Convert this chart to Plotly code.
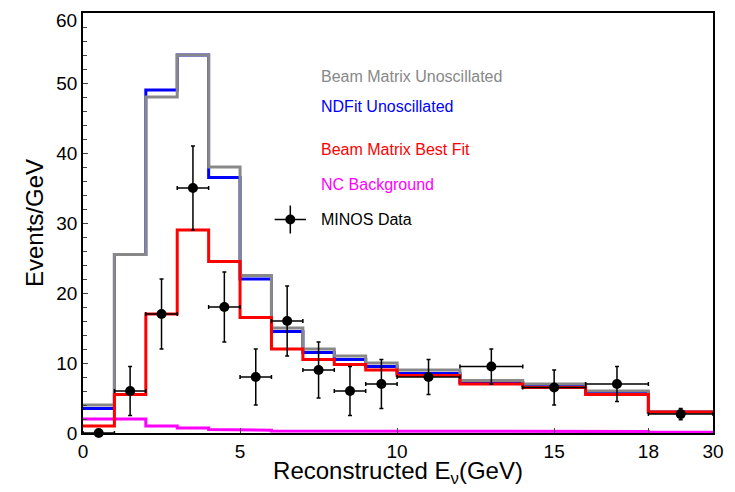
import plotly.graph_objects as go

edges = [0,1,2,3,4,5,6,7,8,9,10,12,14,16,18,30]
gray = [4,25.5,48,54,38,22.5,15,12,11,10,9,7.5,7,6,3]
blue = [3.5,25.5,49,54,36.5,22,14.5,11.5,10.5,9.5,8.5,7.2,6.8,5.8,3]
red = [1,5.5,17,29,24.5,16.5,12,10.5,9.8,9,8.2,7,6.5,5.5,3]
nc = [2,2,1,0.7,0.5,0.4,0.3,0.3,0.2,0.2,0.2,0.2,0.2,0.2,0.1]
dx = [0.5,1.5,2.5,3.5,4.5,5.5,6.5,7.5,8.5,9.5,11,13,15,17,24]
dxe = [0.5,0.5,0.5,0.5,0.5,0.5,0.5,0.5,0.5,0.5,1,1,1,1,6]
dy = [0,6,17,35,18,8,16,9,6,7,8,9.5,6.5,7,2.7]
dye = [0,3.5,5,6,5,4,5,4,3.5,3.5,2.5,2.5,2.5,2.5,0.8]
ticks = [0,5,10,15,18,30]
yticks = [0,10,20,30,40,50]
ytop = 60

def t(x):
    return x if x <= 18 else 18 + (x-18)*0.1714

def step(vals):
    xs, ys = [], []
    for i, v in enumerate(vals):
        xs += [t(edges[i]), t(edges[i+1])]
        ys += [v, v]
    return xs, ys

fig = go.Figure()
for vals, c in [(nc,'#ff00ff'),(blue,'#0000ff'),(gray,'#888888'),(red,'#ff0000')]:
    xs, ys = step(vals)
    fig.add_trace(go.Scatter(x=xs, y=ys, mode='lines', line=dict(color=c, width=3), showlegend=False, cliponaxis=False))

txs = [t(x) for x in dx]
exl = [t(x)-t(x-e) for x, e in zip(dx, dxe)]
exr = [t(x+e)-t(x) for x, e in zip(dx, dxe)]
fig.add_trace(go.Scatter(x=txs, y=dy, mode='markers', marker=dict(color='black', size=10),
    error_x=dict(type='data', symmetric=False, array=exr, arrayminus=exl, color='black', thickness=1.5, width=2),
    error_y=dict(type='data', array=dye, color='black', thickness=1.5, width=2), showlegend=False, cliponaxis=False))

labels = [('Beam Matrix Unoscillated','#888888',51),('NDFit Unoscillated','#0000ff',46.7),
          ('Beam Matrix Best Fit','#ff0000',40.5),('NC Background','#ff00ff',35.5)]
for txt, c, y in labels:
    fig.add_annotation(x=7.5, y=y, text=txt, showarrow=False, xanchor='left', font=dict(color=c, size=16))
fig.add_annotation(x=7.5, y=30.5, text='MINOS Data', showarrow=False, xanchor='left', font=dict(color='black', size=16))
fig.add_trace(go.Scatter(x=[6.6], y=[30.5], mode='markers', marker=dict(color='black', size=10),
    error_x=dict(type='constant', value=0.5, color='black', thickness=1.5, width=0),
    error_y=dict(type='constant', value=2, color='black', thickness=1.5, width=0), showlegend=False))
fig.add_annotation(xref='paper', x=0, xshift=-4, yref='y', y=ytop, yshift=-7, text=str(ytop), showarrow=False,
    xanchor='right', font=dict(size=19))

fig.update_layout(width=719, height=480, margin=dict(l=75, r=11, t=3, b=55),
    plot_bgcolor='white', paper_bgcolor='white', font=dict(family='Liberation Sans', color='black'))
fig.update_xaxes(range=[0, t(30)], tickvals=[t(v) for v in ticks], ticktext=[str(v) for v in ticks],
    showline=True, mirror=True, linecolor='black', linewidth=1.5, ticks='inside', showgrid=False, zeroline=False,
    tickfont=dict(size=19), title=dict(text='Reconstructed E<sub>ν</sub>(GeV)', font=dict(size=24), standoff=5))
fig.update_yaxes(range=[0, ytop], tickvals=yticks, showline=True, mirror=True, linecolor='black', linewidth=1.5,
    ticks='inside', showgrid=False, zeroline=False, tickfont=dict(size=19),
    title=dict(text='Events/GeV', font=dict(size=24), standoff=6), minor=dict(ticks='inside', dtick=2, ticklen=4))
fig.write_html('out.html')
